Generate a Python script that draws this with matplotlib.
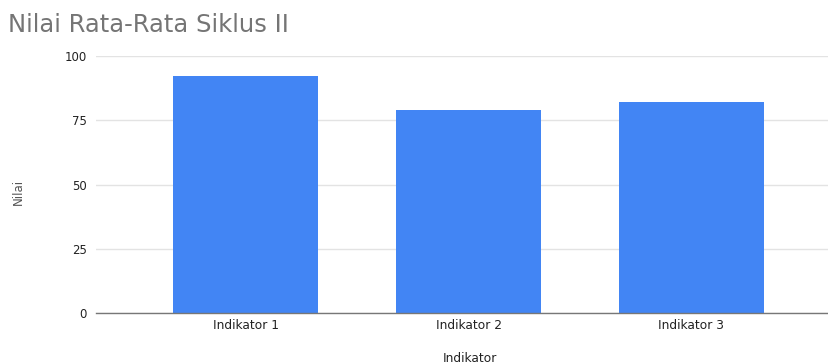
import matplotlib
matplotlib.use("Agg")
import matplotlib.pyplot as plt

categories = ["Indikator 1", "Indikator 2", "Indikator 3"]
values = [92.4, 79.0, 82.2]
yticks = [0, 25, 50, 75, 100]

plt.rcParams['font.family'] = ['DejaVu Sans']

fig = plt.figure(figsize=(8.29, 3.64), dpi=100)
ax = fig.add_axes([96 / 829, 1 - 313 / 364, 1 - 96 / 829, (313 - 56) / 364])

x = list(range(len(categories)))
ax.bar(x, values, width=0.65, color="#4285F4", zorder=3)

ax.set_xlim(-0.672, 2.617)
ax.set_ylim(0, 100)
ax.set_yticks(yticks)
ax.set_yticklabels([str(v) for v in yticks], fontsize=8.5, color="#222222")
ax.set_xticks(x)
ax.set_xticklabels(categories, fontsize=8.8, color="#222222")
ax.tick_params(axis="both", length=0)
ax.tick_params(axis="y", pad=6.5)
ax.tick_params(axis="x", pad=4.3)

ax.grid(axis="y", color="#e3e3e3", linewidth=1, zorder=0)
for s in ["top", "right", "left"]:
    ax.spines[s].set_visible(False)
ax.spines["bottom"].set_color("#777777")
ax.spines["bottom"].set_linewidth(1)
ax.spines["bottom"].set_zorder(4)

fig.text(8.5 / 829, 1 - 31.5 / 364, "Nilai Rata-Rata Siklus II", fontsize=17.5,
         color="#757575", ha="left", va="baseline")
fig.text(18.5 / 829, 1 - 192 / 364, "Nilai", fontsize=8.5, color="#555555",
         rotation=90, ha="center", va="center")
fig.text(469.5 / 829, 1 - 351.5 / 364, "Indikator", fontsize=8.8, color="#222222",
         ha="center", va="top")

fig.savefig("out.png", dpi=100)
